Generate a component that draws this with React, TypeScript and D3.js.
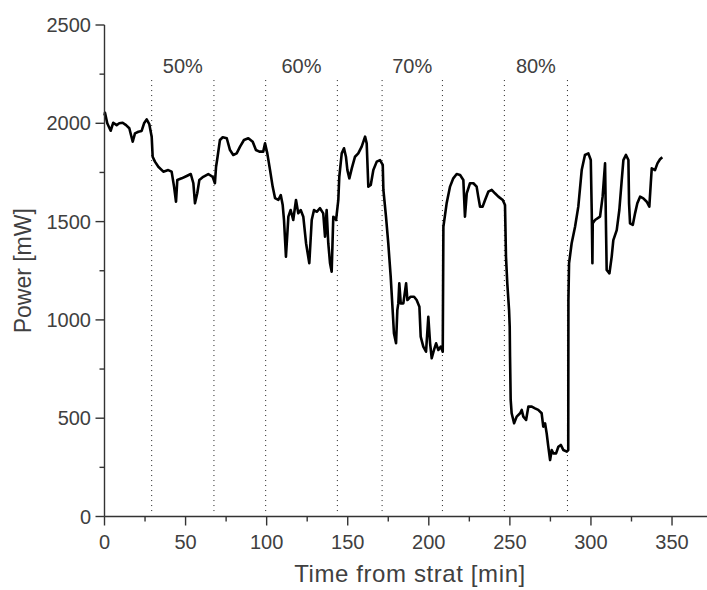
import * as d3 from 'd3';

// time from start [min]
const times = [
  0, 0.3, 1.7, 3.8, 5.4, 7.5, 9.1, 11.2, 13.3, 15.3, 17.4, 18.8, 20.9, 22.9, 24.4, 26, 27.6, 29.1, 29.7,
  31.1, 33.2, 36.3, 39.3, 41.4, 42.9, 44.1, 44.9, 47.6, 50.7, 53.2, 54.8, 55.8, 57.2, 58.5, 60.9, 64,
  66.7, 68.1, 68.8, 69.6, 71.2, 72.9, 75.4, 77.4, 79.4, 81.5, 83.6, 86, 88.7, 91.4, 93.4, 95.5, 97.9,
  99, 100.4, 102.1, 103.7, 105.2, 107.2, 108.7, 109.9, 110.7, 111.9, 113.4, 114.8, 116.4, 118.1, 119.5,
  121, 122.6, 124.3, 126.3, 127.8, 129.2, 130.9, 132.9, 134.9, 136, 137, 138, 139.1, 140.1, 141.1, 142.8,
  144.2, 144.8, 146.3, 147.7, 148.9, 149.8, 151, 152.5, 154.5, 156.5, 158.6, 160.7, 161.7, 162.7, 164.2,
  165.8, 167.9, 169.9, 171.6, 172, 173.6, 175, 176.5, 177.7, 178.5, 179.8, 180.6, 181.2, 181.8, 182.7,
  184.3, 186, 186.8, 188.8, 190.9, 192.5, 194.2, 195, 196.6, 198.3, 199.7, 200.8, 201.8, 203.2, 204.5,
  205.9, 207.4, 208.6, 209, 211, 213.1, 215.1, 217.2, 219.3, 221.3, 222.3, 223.4, 225.4, 227.5, 229.5,
  230.5, 231.6, 233.2, 234.7, 236.7, 238.8, 240.8, 242.9, 245.6, 247, 247.6, 248.4, 249.5, 249.9, 250.1,
  250.5, 251.1, 252.6, 254.2, 256.3, 257.3, 258.3, 260, 261.4, 263.5, 265.5, 267.5, 269.6, 270.6, 271.7,
  272.7, 273.7, 274.8, 275.8, 276.8, 278.5, 279.9, 281.4, 283, 285.1, 286, 286.1, 286.5, 288.1, 290.2,
  292.2, 294.3, 296.3, 298.4, 299.9, 300.5, 300.9, 301.1, 302.5, 305.6, 307.2, 308.7, 309.3, 309.7, 311.4,
  312.8, 313.8, 315.9, 317.5, 319, 320, 321.6, 323.1, 323.5, 324.1, 325.8, 327.2, 328.6, 330.3, 332.3,
  334.4, 336, 336.9, 337.5, 339.5, 341, 342.6, 344,
];

// power [mW]
const power = [
  2040, 2054, 2000, 1962, 2003, 1991, 2000, 2003, 1991, 1975, 1906, 1949, 1957, 1961, 2000, 2020, 1996, 1932, 1830,
  1805, 1779, 1754, 1762, 1754, 1678, 1601, 1712, 1720, 1732, 1742, 1695, 1593, 1644, 1712, 1728, 1742,
  1728, 1695, 1779, 1822, 1915, 1929, 1924, 1864, 1839, 1847, 1881, 1915, 1924, 1906, 1864, 1856, 1856,
  1898, 1847, 1762, 1678, 1619, 1610, 1635, 1584, 1508, 1322, 1525, 1559, 1508, 1610, 1542,
  1559, 1525, 1390, 1288, 1508, 1559, 1550, 1568, 1542, 1423, 1559, 1390, 1288, 1245, 1525, 1508,
  1610, 1728, 1847, 1873, 1830, 1762, 1720, 1771, 1830, 1847, 1881, 1932, 1898, 1678, 1686,
  1762, 1805, 1813, 1788, 1661, 1525, 1390, 1220, 1050, 932, 881, 1050, 1084, 1186, 1084,
  1084, 1186, 1101, 1118, 1118, 1101, 1067, 915, 864, 838, 1016, 881, 805, 847, 881,
  847, 864, 838, 1474, 1593, 1678, 1720, 1742, 1737, 1712, 1525, 1644, 1695, 1695, 1678,
  1627, 1576, 1576, 1610, 1652, 1661, 1644, 1627, 1610, 1584, 1322, 1186, 1050, 965, 813,
  593, 525, 474, 508, 525, 542, 508, 491, 559, 559, 550, 542, 525, 457, 474,
  423, 355, 287, 338, 321, 321, 355, 364, 338, 330, 338, 1100, 1288, 1390, 1474,
  1576, 1762, 1839, 1847, 1813, 1542, 1288, 1491, 1508, 1525, 1627, 1796, 1457, 1254, 1237,
  1322, 1406, 1457, 1559, 1712, 1813, 1839, 1813, 1593, 1491, 1483, 1542, 1593, 1627, 1618,
  1601, 1576, 1695, 1771, 1762, 1796, 1817, 1827,
];

// dotted boundaries of the test phases [min]
const phaseBounds = [29.1, 67.5, 99.4, 143.6, 171.2, 208.4, 246.6, 285.5];
const phaseLabels = ['50%', '60%', '70%', '80%'];

const xTicks = [0, 50, 100, 150, 200, 250, 300, 350];
const yTicks = [0, 500, 1000, 1500, 2000, 2500];

const App = () => {
  const width = 707;
  const height = 590;

  const x = d3.scaleLinear().domain([0, 372]).range([104.5, 707.7]);
  const y = d3.scaleLinear().domain([0, 2500]).range([516.5, 25]);

  const pts: [number, number][] = times.map((t, i) => [t, power[i]]);
  const line = d3.line<[number, number]>()
    .x(d => x(d[0]))
    .y(d => y(d[1]));

  const xMinor = d3.range(25, 372, 50);
  const yMinor = d3.range(250, 2500, 500);
  const axisColor = '#333';
  const textColor = '#404040';
  const font = '"Liberation Sans", Arial, sans-serif';

  return (
    <svg width={width} height={height} style={{ position: 'absolute', left: 0, top: 0 }} fontFamily={font}>
      <rect width={width} height={height} fill="#fff" />

      {/* phase boundaries */}
      {phaseBounds.map((b, i) => (
        <line key={i} x1={x(b)} x2={x(b)} y1={y(2220)} y2={y(0) - 2}
          stroke="#222" strokeWidth={1} strokeDasharray="1,4" />
      ))}
      {phaseLabels.map((lab, i) => (
        <text key={lab} x={x((phaseBounds[i * 2] + phaseBounds[i * 2 + 1]) / 2)} y={73}
          textAnchor="middle" fontSize={20} fill={textColor}>{lab}</text>
      ))}

      {/* data */}
      <path d={line(pts) || ''} fill="none" stroke="#000" strokeWidth={2.6} strokeLinejoin="round" />

      {/* axes */}
      <line x1={x(0)} x2={width} y1={y(0)} y2={y(0)} stroke={axisColor} strokeWidth={1.4} />
      <line x1={x(0)} x2={x(0)} y1={y(0)} y2={y(2500)} stroke={axisColor} strokeWidth={1.4} />
      {xTicks.map(t => (
        <g key={t}>
          <line x1={x(t)} x2={x(t)} y1={y(0)} y2={y(0) + 9} stroke={axisColor} strokeWidth={1.4} />
          <text x={x(t)} y={549} textAnchor="middle" fontSize={20} fill={textColor}>{t}</text>
        </g>
      ))}
      {xMinor.map(t => (
        <line key={t} x1={x(t)} x2={x(t)} y1={y(0)} y2={y(0) + 5} stroke={axisColor} strokeWidth={1.4} />
      ))}
      {yTicks.map(v => (
        <g key={v}>
          <line x1={x(0) - 9} x2={x(0)} y1={y(v)} y2={y(v)} stroke={axisColor} strokeWidth={1.4} />
          <text x={91} y={y(v) + 7} textAnchor="end" fontSize={20} fill={textColor}>{v}</text>
        </g>
      ))}
      {yMinor.map(v => (
        <line key={v} x1={x(0) - 5} x2={x(0)} y1={y(v)} y2={y(v)} stroke={axisColor} strokeWidth={1.4} />
      ))}

      <text x={410} y={582} textAnchor="middle" fontSize={24} letterSpacing={0.6} fill={textColor}>Time from strat [min]</text>
      <text transform={`translate(31,${(y(0) + y(2500)) / 2}) rotate(-90)`} textAnchor="middle"
        fontSize={23} fill={textColor}>Power [mW]</text>
    </svg>
  );
};

export default App;
